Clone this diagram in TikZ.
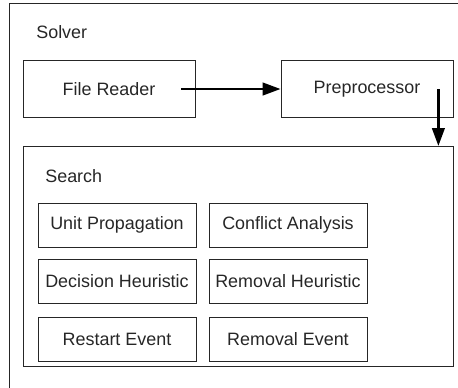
\documentclass[tikz,border=0pt]{standalone}
\usepackage{fontspec}
\setmainfont{Liberation Sans}
\usetikzlibrary{positioning, calc, arrows.meta}

\tikzset{
    box/.style={draw=black!85, line width=0.45pt, inner sep=0pt, minimum height=44*0.02cm},
    part/.style={box, minimum width=158*0.02cm},
    title/.style={inner sep=0pt, anchor=west},
    flow/.style={line width=1.5pt, -{Triangle[length=3.6mm, width=2.5mm]}}
}

\begin{document}
\begin{tikzpicture}[x=0.02cm, y=-0.02cm, font=\fontsize{10.2}{12}\selectfont, text=black!85]
    \clip (0,0) rectangle (458,387);

    %Solver
    \node[box, anchor=north west, minimum width=500*0.02cm, minimum height=420*0.02cm] (solver) at (9,3) {};
    \node[title] (solvertxt) at (36,32) {Solver};

    %Stages
    \node[box, minimum width=172*0.02cm, minimum height=57*0.02cm] (reader) at (109,89) {File Reader};
    \node[box, minimum width=172*0.02cm, minimum height=57*0.02cm] (prep) at (367,89) {Preprocessor};

    %Search
    \node[box, anchor=north west, minimum width=430*0.02cm, minimum height=220*0.02cm] (search) at (23,146) {};
    \node[title] (searchtxt) at (45,176) {Search};

    %Search parts
    \node[part] (unit) at (117,225) {Unit Propagation};
    \node[part] (conflict) at (288,225) {Conflict Analysis};
    \node[part] (decision) at (117,281.5) {Decision Heuristic};
    \node[part] (removalh) at (288,281.5) {Removal Heuristic};
    \node[part] (restart) at (117,339) {Restart Event};
    \node[part] (removale) at (288,339) {Removal Event};

    %Arrows
    \draw[flow] ($(reader.east)+(-14,0)$) -- (prep.west);
    \coordinate (down) at ($(prep.east)+(-15,0)$);
    \draw[flow] (down) -- (down |- search.north);
\end{tikzpicture}
\end{document}
